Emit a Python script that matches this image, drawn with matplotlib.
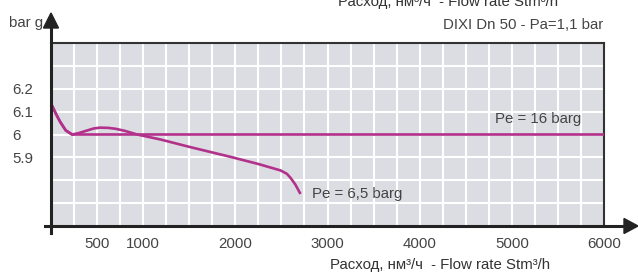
import matplotlib
matplotlib.use('Agg')
import matplotlib.pyplot as plt
from matplotlib.patches import Polygon

plt.rcParams['font.family'] = ['Liberation Sans', 'DejaVu Sans']

# curve values
flow_65 = [10, 60, 100, 160, 228, 300, 380, 460, 530, 620, 700, 800, 935, 1190,
           1500, 1950, 2250, 2490, 2560, 2600, 2650, 2707]
p_65 = [6.127, 6.085, 6.055, 6.018, 6.0, 6.006, 6.016, 6.026, 6.03, 6.029,
        6.025, 6.016, 6.0, 5.978, 5.946, 5.902, 5.871, 5.843, 5.828, 5.81,
        5.782, 5.74]
flow_16 = [10, 60, 100, 160, 228, 6000]
p_16 = [6.127, 6.085, 6.055, 6.018, 6.0, 6.0]

x_ticks = [500, 1000, 2000, 3000, 4000, 5000, 6000]
y_ticks = [5.9, 6.0, 6.1, 6.2]
y_tick_labels = ['5.9', '6', '6.1', '6.2']

W, H = 638, 272
FS = 10.8
TXT = '#444444'
fig = plt.figure(figsize=(W / 100, H / 100), dpi=100)
left, right, top, bottom = 51, 604, 43, 226
ax = fig.add_axes([left / W, 1 - bottom / H, (right - left) / W, (bottom - top) / H])

ax.set_facecolor('#dbdde2')
ax.set_xlim(0, 6000)
ax.set_ylim(5.6, 6.4)

# white grid
for gx in range(250, 6000, 250):
    ax.axvline(gx, color='white', lw=1.5, zorder=1)
for i in range(1, 8):
    ax.axhline(5.6 + i * 0.1, color='white', lw=1.5, zorder=1)

col = '#b2318a'
ax.plot(flow_16, p_16, color=col, lw=1.9, zorder=3, solid_capstyle='butt')
ax.plot(flow_65, p_65, color=col, lw=1.9, zorder=3, solid_capstyle='butt')

ax.text(4815, 6.066, 'Pe = 16 barg', fontsize=FS, color=TXT, va='center')
ax.text(2830, 5.738, 'Pe = 6,5 barg', fontsize=FS, color=TXT, va='center')

ax.set_xticks(x_ticks)
ax.set_xticklabels([str(v) for v in x_ticks])
ax.set_yticks(y_ticks)
ax.set_yticklabels(y_tick_labels)
ax.tick_params(axis='both', length=0, labelsize=FS, labelcolor=TXT)
ax.tick_params(axis='x', pad=8)
ax.tick_params(axis='y', pad=0)
for lab in ax.get_yticklabels():
    lab.set_horizontalalignment('left')
    lab.set_x(-39 / (right - left))

for s in ['left', 'bottom']:
    ax.spines[s].set_visible(False)
for s in ['top', 'right']:
    ax.spines[s].set_color('#333333')
    ax.spines[s].set_linewidth(1.5)

# axis lines with arrow heads
def px(x, y):
    return (x / W, 1 - y / H)

axis_col = '#222222'
fig.add_artist(plt.Line2D(*zip(px(51, 233), px(51, 26)), color=axis_col, lw=2.2,
                          transform=fig.transFigure))
fig.add_artist(plt.Line2D(*zip(px(45, 226), px(626, 226)), color=axis_col, lw=2.2,
                          transform=fig.transFigure))
fig.add_artist(Polygon([px(43.5, 28), px(58.5, 28), px(51, 13)], closed=True,
                       color=axis_col, transform=fig.transFigure))
fig.add_artist(Polygon([px(624, 218.5), px(624, 233.5), px(638, 226)], closed=True,
                       color=axis_col, transform=fig.transFigure))

fig.text(43 / W, 1 - 23 / H, 'bar g', fontsize=FS, color=TXT, ha='right', va='center')
fig.text(603 / W, 1 - 25 / H, 'DIXI Dn 50 - Pa=1,1 bar', fontsize=FS, color=TXT,
         ha='right', va='center')
# copy of the axis title, cut off at the top edge as in the source
fig.text(448 / W, 1 - 6 / H, 'Расход, нм³/ч  - Flow rate Stm³/h', fontsize=FS,
         color='#333333', ha='center', va='baseline')
fig.text(440 / W, 1 - 269 / H, 'Расход, нм³/ч  - Flow rate Stm³/h', fontsize=FS,
         color='#333333', ha='center', va='baseline')

fig.savefig('out.png', dpi=100)
